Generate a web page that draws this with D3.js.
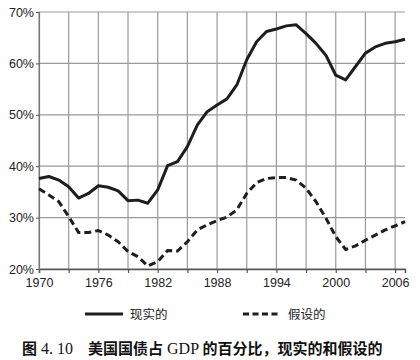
<!DOCTYPE html>
<html>
<head>
<meta charset="utf-8">
<script src="https://cdn.jsdelivr.net/npm/d3@7"></script>
<style>
  body { margin: 0; background: #fff; }
  svg { display: block; }
</style>
</head>
<body>
<div id="chart"></div>
<script>
const years = d3.range(1970, 2008);
const actual = [37.6, 38.0, 37.3, 36.0, 33.8, 34.7, 36.2, 35.9, 35.2, 33.3,
  33.4, 32.8, 35.4, 40.1, 40.9, 43.8, 48.0, 50.6, 51.9, 53.1,
  55.8, 60.7, 64.2, 66.2, 66.7, 67.3, 67.5, 65.8, 63.9, 61.6,
  57.7, 56.8, 59.4, 62.0, 63.2, 63.9, 64.2, 64.7];
const hypothetical = [35.6, 34.4, 33.1, 30.2, 27.1, 27.1, 27.5, 26.6, 25.3, 23.4,
  22.4, 20.6, 21.4, 23.6, 23.5, 25.3, 27.6, 28.6, 29.4, 30.1,
  31.5, 34.7, 36.8, 37.6, 37.8, 37.8, 37.3, 35.7, 33.1, 29.9,
  26.3, 23.8, 24.5, 25.6, 26.6, 27.6, 28.4, 29.2];
const yTicks = [20, 30, 40, 50, 60, 70];
const xGrid = d3.range(1970, 2008, 3);
const xLabels = [1970, 1976, 1982, 1988, 1994, 2000, 2006];
const legendNames = ["现实的", "假设的"];
// caption pieces: [text, isLatin]
const caption = [["图", false], [" 4. 10", true], ["美国国债占", false], [" GDP ", true],
  ["的百分比，现实的和假设的", false]];

const width = 420, height = 360;
const margin = { top: 12, right: 15, bottom: 91, left: 39 };

const svg = d3.select("#chart")
  .append("svg")
  .attr("width", width)
  .attr("height", height);

const x = d3.scaleLinear()
  .domain([1970, 2007])
  .range([margin.left, width - margin.right]);
const y = d3.scaleLinear()
  .domain([20, 70])
  .range([height - margin.bottom, margin.top]);

// grid
svg.append("g")
  .selectAll("line")
  .data(yTicks)
  .join("line")
  .attr("x1", x(1970)).attr("x2", x(2007))
  .attr("y1", d => y(d)).attr("y2", d => y(d))
  .attr("stroke", "#9a9a9a")
  .attr("stroke-width", 1.2);

svg.append("g")
  .selectAll("line")
  .data(xGrid)
  .join("line")
  .attr("x1", d => x(d)).attr("x2", d => x(d))
  .attr("y1", y(70)).attr("y2", y(20))
  .attr("stroke", "#9a9a9a")
  .attr("stroke-width", 1.2);

// axes
const xAxis = svg.append("g")
  .attr("transform", "translate(0," + y(20) + ")")
  .call(d3.axisBottom(x).tickValues(xGrid).tickSize(4)
    .tickFormat(d => xLabels.includes(d) ? d : ""));
xAxis.select(".domain").attr("stroke", "#555").attr("stroke-width", 1.5);
xAxis.selectAll(".tick line").attr("stroke", "#555").attr("stroke-width", 1.2);
xAxis.selectAll("text")
  .attr("dy", "0.9em")
  .style("font-family", "'Liberation Sans', Arial, sans-serif")
  .style("font-size", "12.5px")
  .attr("fill", "#222");

const yAxis = svg.append("g")
  .attr("transform", "translate(" + x(1970) + ",0)")
  .call(d3.axisLeft(y).tickValues(yTicks).tickSize(3).tickFormat(d => d + "%"));
yAxis.select(".domain").attr("stroke", "#777").attr("stroke-width", 1.2);
yAxis.selectAll(".tick line").attr("stroke", "#555");
yAxis.selectAll("text")
  .attr("x", -5)
  .style("font-family", "'Liberation Sans', Arial, sans-serif")
  .style("font-size", "12.5px")
  .attr("fill", "#222");

// lines
const line = d3.line()
  .x((d, i) => x(years[i]))
  .y(d => y(d));

svg.append("path")
  .datum(actual)
  .attr("d", line)
  .attr("fill", "none")
  .attr("stroke", "#1e1e1e")
  .attr("stroke-width", 3)
  .attr("stroke-linejoin", "round");

svg.append("path")
  .datum(hypothetical)
  .attr("d", line)
  .attr("fill", "none")
  .attr("stroke", "#1e1e1e")
  .attr("stroke-width", 3)
  .attr("stroke-dasharray", "7,4");

// legend
const legend = [
  { name: legendNames[0], x1: 85, dash: null },
  { name: legendNames[1], x1: 243, dash: "6,3.5" }
];
const lg = svg.append("g")
  .selectAll("g")
  .data(legend)
  .join("g")
  .attr("transform", d => "translate(" + d.x1 + ",314)");
lg.append("line")
  .attr("x1", 0).attr("x2", 38)
  .attr("stroke", "#1e1e1e")
  .attr("stroke-width", 3)
  .attr("stroke-dasharray", d => d.dash);
lg.append("text")
  .attr("x", 45)
  .attr("dy", "0.36em")
  .style("font-family", "'Noto Sans CJK SC', sans-serif")
  .style("font-size", "12.5px")
  .attr("fill", "#222")
  .text(d => d.name);

// caption
const cap = svg.append("text")
  .attr("y", 354)
  .attr("xml:space", "preserve")
  .style("white-space", "pre")
  .attr("fill", "#111");
cap.selectAll("tspan")
  .data(caption)
  .join("tspan")
  .attr("x", (d, i) => i === 0 ? 22 : (i === 2 ? 88 : null))
  .style("font-family", d => d[1] ? "'Liberation Serif', serif" : "'Noto Sans CJK SC', sans-serif")
  .style("font-weight", d => d[1] ? "normal" : "bold")
  .style("font-size", d => d[1] ? "16px" : "15px")
  .text(d => d[0]);
</script>
</body>
</html>
